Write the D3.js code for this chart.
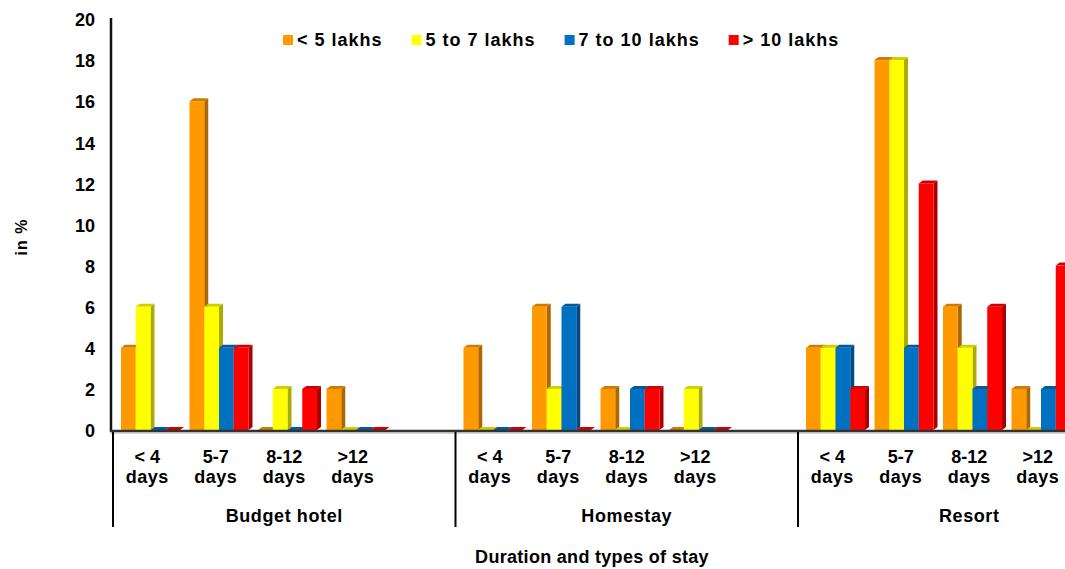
<!DOCTYPE html>
<html>
<head>
<meta charset="utf-8">
<script src="https://cdn.jsdelivr.net/npm/d3@7"></script>
<style>
  body { margin: 0; background: #fff; }
  svg { display: block; }
  text { font-family: "Liberation Sans", Arial, sans-serif; font-weight: bold; fill: #000; }
</style>
</head>
<body>
<svg width="1065" height="569"></svg>
<script>
  // data (in %)
  var groups = ["Budget hotel", "Homestay", "Resort"];
  var durations = [["< 4", "days"], ["5-7", "days"], ["8-12", "days"], [">12", "days"]];
  var seriesNames = ["< 5 lakhs", "5 to 7 lakhs", "7 to 10 lakhs", "> 10 lakhs"];
  var colors = ["#FF9900", "#FFFF00", "#0070C0", "#FF0000"];
  var yTicks = [0, 2, 4, 6, 8, 10, 12, 14, 16, 18, 20];

  var lt5    = [4, 16, 0, 2,  4, 6, 2, 0,  4, 18, 6, 2];
  var s5to7  = [6, 6, 2, 0,   0, 2, 0, 2,  4, 18, 4, 0];
  var s7to10 = [0, 4, 0, 0,   0, 6, 2, 0,  4, 4, 2, 2];
  var gt10   = [0, 4, 2, 0,   0, 0, 2, 0,  2, 12, 6, 8];
  var seriesValues = [lt5, s5to7, s7to10, gt10];

  var svg = d3.select("svg"),
      x0 = 113, groupW = 342.5, base = 431,
      dx = 4, dy = 3;

  var xGroup = d3.scaleBand().domain(groups).range([x0, x0 + groups.length * groupW]);
  // 4 durations + one empty slot per group
  var slots = [0, 1, 2, 3, 4];
  var xSlot = d3.scaleBand().domain(slots).range([0, xGroup.bandwidth()]);
  var xSeries = d3.scaleBand().domain(d3.range(seriesNames.length)).range([8, 67]);
  var y = d3.scaleLinear().domain([0, 20]).range([base, 20]);

  function shade(c, k) { return d3.color(c).darker(k).formatHex(); }

  // bars
  var bars = [];
  groups.forEach(function(g, gi) {
    durations.forEach(function(d, di) {
      seriesNames.forEach(function(s, si) {
        bars.push({ g: g, d: di, s: si, v: seriesValues[si][gi * 4 + di] });
      });
    });
  });

  var barG = svg.append("g");
  bars.forEach(function(b) {
    var x = xGroup(b.g) + xSlot(b.d) + xSeries(b.s),
        w = xSeries.bandwidth(),
        yt = b.v > 0 ? y(b.v) - 1 : base - 1,
        yb = base - 1,
        c = colors[b.s];
    barG.append("path")
      .attr("d", "M" + (x + w) + "," + yt + "L" + (x + w + dx) + "," + (yt - dy) +
                 "L" + (x + w + dx) + "," + (yb - dy) + "L" + (x + w) + "," + yb + "Z")
      .attr("fill", shade(c, 1.1));
    barG.append("path")
      .attr("d", "M" + x + "," + yt + "L" + (x + dx) + "," + (yt - dy) +
                 "L" + (x + w + dx) + "," + (yt - dy) + "L" + (x + w) + "," + yt + "Z")
      .attr("fill", shade(c, 0.6));
    if (b.v > 0) {
      barG.append("rect")
        .attr("x", x).attr("y", yt)
        .attr("width", w).attr("height", yb - yt)
        .attr("fill", c);
    }
  });

  // y axis
  var yAxis = svg.append("g")
      .attr("transform", "translate(111,0)")
      .call(d3.axisLeft(y).tickValues(yTicks).tickSize(0).tickPadding(16));
  yAxis.select(".domain").remove();
  yAxis.selectAll("text")
      .style("font-family", "'Liberation Sans', Arial, sans-serif")
      .style("font-weight", "bold")
      .style("font-size", "18px")
      .attr("fill", "#000");
  svg.append("line")
      .attr("x1", 111).attr("x2", 111).attr("y1", 18).attr("y2", base + 1)
      .attr("stroke", "#111").attr("stroke-width", 2.5);

  // x axis
  svg.append("line")
      .attr("x1", 110).attr("x2", 1065).attr("y1", base).attr("y2", base)
      .attr("stroke", "#333").attr("stroke-width", 2.5);
  svg.append("line")
      .attr("x1", 110).attr("x2", 1065).attr("y1", base + 2).attr("y2", base + 2)
      .attr("stroke", "#aaa").attr("stroke-width", 1);

  groups.concat(["_end"]).forEach(function(g, gi) {
    var gx = x0 + gi * groupW;
    svg.append("line")
      .attr("x1", gx).attr("x2", gx).attr("y1", base + 1).attr("y2", 527)
      .attr("stroke", "#000").attr("stroke-width", 2);
  });

  groups.forEach(function(g) {
    durations.forEach(function(d, di) {
      var cx = xGroup(g) + xSlot(di) + xSlot.bandwidth() / 2;
      svg.append("text").attr("x", cx).attr("y", 463)
        .attr("text-anchor", "middle").style("font-size", "18px").text(d[0]);
      svg.append("text").attr("x", cx).attr("y", 483)
        .attr("text-anchor", "middle").style("font-size", "18px")
        .style("letter-spacing", "0.5px").text(d[1]);
    });
    svg.append("text")
      .attr("x", xGroup(g) + xGroup.bandwidth() / 2).attr("y", 522)
      .attr("text-anchor", "middle").style("font-size", "18px")
      .style("letter-spacing", "0.6px").text(g);
  });

  svg.append("text")
      .attr("x", 592).attr("y", 563)
      .attr("text-anchor", "middle").style("font-size", "18px")
      .style("letter-spacing", "0.3px")
      .text("Duration and types of stay");

  svg.append("text")
      .attr("transform", "translate(27,237) rotate(-90)")
      .attr("text-anchor", "middle").style("font-size", "16px")
      .style("letter-spacing", "1px")
      .text("in %");

  // legend
  var lx = 283;
  seriesNames.forEach(function(s, i) {
    svg.append("rect")
      .attr("x", lx).attr("y", 35).attr("width", 10).attr("height", 10)
      .attr("fill", colors[i]);
    var t = svg.append("text")
      .attr("x", lx + 14).attr("y", 46)
      .style("font-size", "18px").style("letter-spacing", "1px")
      .text(s);
    lx = lx + 14 + t.node().getComputedTextLength() + 29;
  });
</script>
</body>
</html>
